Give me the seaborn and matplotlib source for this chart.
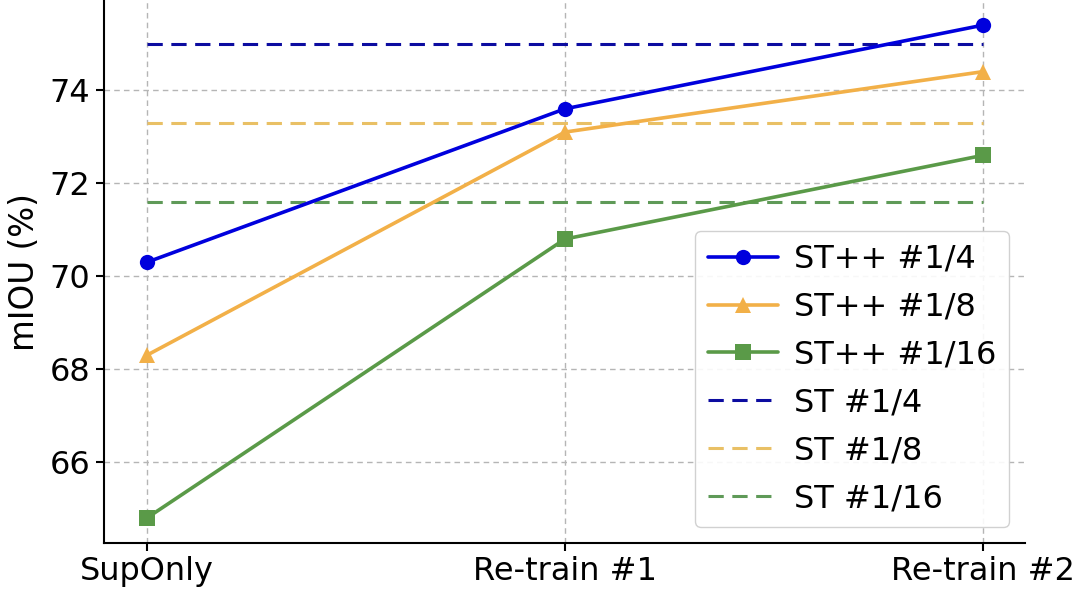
import pandas as pd
import seaborn as sns
import matplotlib.pyplot as plt

# Données
stages = ["SupOnly", "Re-train #1", "Re-train #2"]
stpp_14 = [70.3, 73.6, 75.4]
stpp_18 = [68.3, 73.1, 74.4]
stpp_116 = [64.8, 70.8, 72.6]
st_14 = 75.0
st_18 = 73.3
st_116 = 71.6

sns.set_style("ticks")
plt.rcParams['font.family'] = ['DejaVu Sans']
for key in ['text.color', 'axes.labelcolor', 'xtick.color', 'ytick.color', 'axes.edgecolor']:
    plt.rcParams[key] = 'black'

fig = plt.figure(figsize=(10.8, 5.93), dpi=100)
ax = fig.add_axes([0.096, 0.084, 0.853, 0.916])

# Courbes ST++
series = [
    ("ST++ #1/4", stpp_14, "#0000dd", "o"),
    ("ST++ #1/8", stpp_18, "#f2b048", "^"),
    ("ST++ #1/16", stpp_116, "#5a9a48", "s"),
]
for label, vals, color, marker in series:
    df = pd.DataFrame({"stage": stages, "miou": vals})
    sns.lineplot(data=df, x="stage", y="miou", ax=ax, color=color, marker=marker,
                 markersize=11, markeredgewidth=0, linewidth=2.6, label=label,
                 sort=False, zorder=3)

# Références ST (lignes horizontales en pointillés)
baselines = [
    ("ST #1/4", st_14, "#0c0ca0"),
    ("ST #1/8", st_18, "#e9c065"),
    ("ST #1/16", st_116, "#5f9a58"),
]
for label, val, color in baselines:
    df = pd.DataFrame({"stage": [stages[0], stages[-1]], "miou": [val, val]})
    sns.lineplot(data=df, x="stage", y="miou", ax=ax, color=color,
                 linewidth=2.2, dashes=False, label=label, sort=False, zorder=2)
    ax.lines[-1].set_dashes((5, 2.8))

ax.set_ylim(64.26, 75.94)
ax.set_yticks([66, 68, 70, 72, 74])
ax.set_xlim(-0.103, 2.1)
ax.grid(True, linestyle=(0, (4, 3)), color="#b5b5b5", linewidth=1.0, zorder=0)
ax.set_axisbelow(True)
sns.despine(ax=ax)
ax.spines['left'].set_linewidth(1.5)
ax.spines['bottom'].set_linewidth(1.5)
ax.tick_params(axis='both', labelsize=23, length=6, width=1.5)

ax.set_xlabel("")
ax.set_ylabel("mIOU (%)", fontsize=23.5, labelpad=6)

leg = ax.legend(loc="lower right", fontsize=23, handlelength=2.2,
                handletextpad=0.5, labelspacing=0.53, framealpha=0.9,
                borderaxespad=0.5)
leg.get_frame().set_edgecolor("#cccccc")

plt.savefig("out.png", dpi=100)
